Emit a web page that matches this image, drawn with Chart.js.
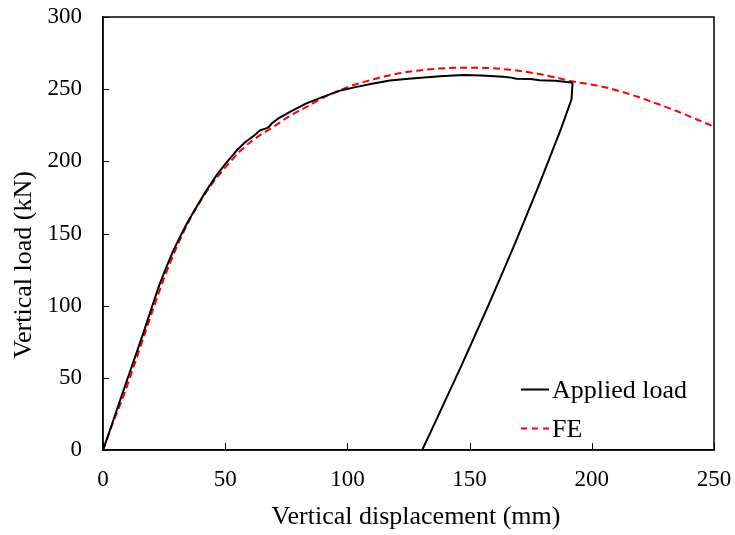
<!DOCTYPE html>
<html>
<head>
<meta charset="utf-8">
<script src="https://cdn.jsdelivr.net/npm/chart.js@4.4.0/dist/chart.umd.min.js"></script>
<style>
  html, body { margin: 0; padding: 0; background: #fff; }
  #wrap { width: 735px; height: 535px; }
</style>
</head>
<body>
<div id="wrap"><canvas id="chart_load"></canvas></div>
<script>
//Load - displacement chart (test vs FE)

//test data: displacement (mm) and load (kN), incl. the unloading branch
var testDisp = [0, 3.5, 7, 12.4, 16.5, 20, 23, 26, 29, 32.2, 35, 38.3, 42, 46.5, 50, 54.7, 58, 62, 64.2, 67, 68, 69,
    72, 76.5, 83, 90, 97, 103.8, 110, 117.4, 125, 137.8, 147.4, 155, 163.7, 167, 169.2, 175, 178.7, 185, 191.7,
    192.1, 191.7, 187.5, 182.8, 178, 173.3, 168.8, 164.4, 157.5, 150.8, 146, 141.2, 136, 130.6];
var testLoad = [0, 17, 34.5, 61, 81, 99, 114, 127, 139, 150, 159, 168.5, 179, 190.4, 198, 207.5, 213, 218, 221.5, 223, 224, 226.2,
    230, 234.3, 240, 244.7, 249, 251.6, 253.8, 256, 257.3, 259, 259.8, 259.5, 258.6, 258, 257.3, 257, 256.2, 255.8, 254.6,
    254, 243, 223, 202.5, 182, 162.5, 144, 126.5, 99.5, 74, 56, 38.5, 19.5, 0];

//FE data
var feDisp = [0, 4, 8.3, 12, 16, 20.6, 25, 30.8, 35, 39.7, 44, 47.9, 52, 56, 62, 69.7, 76, 83.3, 90, 96.9, 101, 110,
    117.4, 127, 137.8, 147.4, 157, 167.8, 180, 192.4, 205, 215.5, 225, 235.9, 243, 250];
var feLoad = [0, 18.5, 37, 55, 75, 98, 119, 143, 158, 172, 183, 191.5, 199.5, 207, 215.5, 223.9, 231, 237.7, 244, 249.3, 252, 256.5,
    259.7, 262.5, 264.3, 264.9, 264.7, 263.2, 260, 255.3, 251.5, 246.5, 241, 234, 229, 224];

//axis ticks and texts
var xTicks = [0, 50, 100, 150, 200, 250];
var yTicks = [0, 50, 100, 150, 200, 250, 300];
var xTitle = "Vertical displacement (mm)";
var yTitle = "Vertical load (kN)";
var seriesNames = ["Applied load", "FE"];

var fontName = "'Liberation Serif', 'Times New Roman', serif";

function toPoints(xs, ys) {
    var pts = [];
    for (var i = 0; i < xs.length; i++) {
        pts.push({x: xs[i], y: ys[i]});
    }
    return pts;
}

//box, inward ticks, axis titles and legend are drawn here
var decoPlugin = {
    id: 'deco',
    afterDraw: function(chart) {
        var ctx = chart.ctx;
        var a = chart.chartArea;
        var xs = chart.scales.x;
        var ys = chart.scales.y;
        ctx.save();

        //frame
        ctx.strokeStyle = '#000';
        ctx.lineWidth = 1.5;
        ctx.strokeRect(a.left, a.top, a.right - a.left, a.bottom - a.top);

        //tick marks pointing inside
        ctx.lineWidth = 1;
        ctx.beginPath();
        xTicks.forEach(function(v) {
            var px = Math.round(xs.getPixelForValue(v)) + 0.5;
            ctx.moveTo(px, a.bottom);
            ctx.lineTo(px, a.bottom - 7);
        });
        yTicks.forEach(function(v) {
            var py = Math.round(ys.getPixelForValue(v)) + 0.5;
            ctx.moveTo(a.left, py);
            ctx.lineTo(a.left + 6, py);
        });
        ctx.stroke();

        //axis titles
        ctx.fillStyle = '#000';
        ctx.font = "26px " + fontName;
        ctx.textAlign = 'center';
        ctx.textBaseline = 'middle';
        ctx.fillText(xTitle, 416, 517);
        ctx.save();
        ctx.translate(24, 265);
        ctx.rotate(-Math.PI / 2);
        ctx.fillText(yTitle, 0, 0);
        ctx.restore();

        //legend
        ctx.textAlign = 'left';
        ctx.lineWidth = 2;
        ctx.strokeStyle = '#000';
        ctx.beginPath();
        ctx.moveTo(521, 389.5);
        ctx.lineTo(549, 389.5);
        ctx.stroke();
        ctx.strokeStyle = '#ff0000';
        ctx.setLineDash([6, 5]);
        ctx.beginPath();
        ctx.moveTo(521, 428.5);
        ctx.lineTo(549, 428.5);
        ctx.stroke();
        ctx.setLineDash([]);
        ctx.fillText(seriesNames[0], 552, 391);
        ctx.fillText(seriesNames[1], 552, 430);

        ctx.restore();
    }
};

var ctxLoad = document.getElementById('chart_load').getContext('2d');
var ChartLoad = new Chart(ctxLoad, {
    type: 'scatter',
    data: {
        datasets: [{
            label: seriesNames[0],
            data: toPoints(testDisp, testLoad),
            showLine: true,
            borderColor: '#000000',
            borderWidth: 2,
            pointRadius: 0,
            tension: 0
        }, {
            label: seriesNames[1],
            data: toPoints(feDisp, feLoad),
            showLine: true,
            borderColor: '#ff0000',
            borderWidth: 2,
            borderDash: [7, 4],
            pointRadius: 0,
            cubicInterpolationMode: 'monotone'
        }]
    },
    options: {
        responsive: true,
        maintainAspectRatio: false,
        animation: false,
        layout: {
            padding: {left: 0, right: 21, top: 17, bottom: 0}
        },
        plugins: {
            legend: {display: false},
            tooltip: {enabled: false}
        },
        scales: {
            x: {
                type: 'linear',
                min: 0,
                max: 250,
                afterFit: function(scale) {
                    scale.height = 85;
                    scale.paddingLeft = 0;
                    scale.paddingRight = 0;
                },
                afterBuildTicks: function(scale) { scale.ticks = xTicks.map(function(v) { return {value: v}; }); },
                grid: {drawOnChartArea: false, drawTicks: false},
                border: {display: true, color: '#000', width: 1.5},
                ticks: {
                    color: '#000',
                    padding: 16,
                    maxRotation: 0,
                    font: {family: fontName, size: 23}
                }
            },
            y: {
                type: 'linear',
                min: 0,
                max: 300,
                afterFit: function(scale) {
                    scale.width = 103;
                    scale.paddingTop = 0;
                    scale.paddingBottom = 0;
                },
                afterBuildTicks: function(scale) { scale.ticks = yTicks.map(function(v) { return {value: v}; }); },
                grid: {drawOnChartArea: false, drawTicks: false},
                border: {display: true, color: '#000', width: 1.5},
                ticks: {
                    color: '#000',
                    padding: 21,
                    font: {family: fontName, size: 23}
                }
            }
        }
    },
    plugins: [decoPlugin]
});
</script>
</body>
</html>
